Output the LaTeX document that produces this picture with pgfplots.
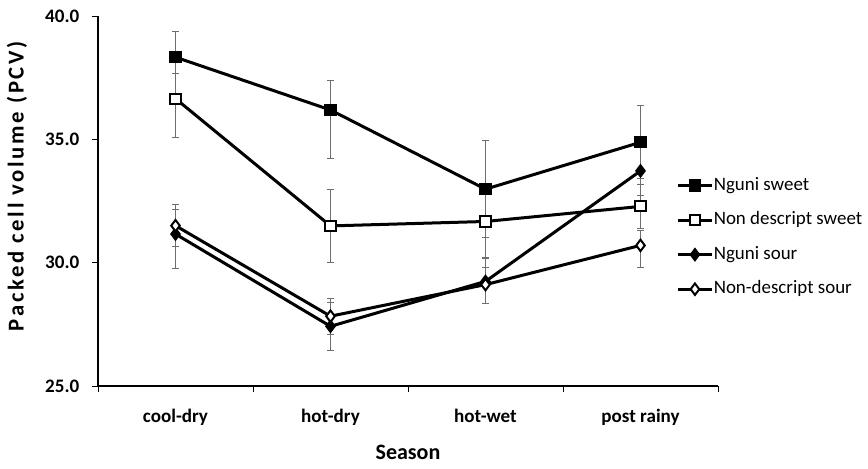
\documentclass[border=0pt]{standalone}
\usepackage{pgfplots}
\pgfplotsset{compat=1.18}
\usepackage{pgfplotstable}
\usepackage{fontspec}
\setmainfont{Carlito}
\definecolor{errgray}{RGB}{110,110,110}

\pgfplotstableread{
x y ep em
0.5 38.33 1.05 0.67
1.5 36.19 1.21 1.96
2.5 32.98 1.97 1.97
3.5 34.88 1.48 1.48
}\ngunisweet
\pgfplotstableread{
x y ep em
0.5 36.65 1.02 1.58
1.5 31.49 1.49 1.48
2.5 31.67 1.46 1.46
3.5 32.28 0.88 0.88
}\ndsweet
\pgfplotstableread{
x y ep em
0.5 31.16 1.01 1.41
1.5 27.42 0.95 0.98
2.5 29.24 0.91 0.91
3.5 33.72 1.00 1.00
}\ngunisour
\pgfplotstableread{
x y ep em
0.5 31.50 0.86 0.86
1.5 27.83 0.73 0.73
2.5 29.11 0.68 0.78
3.5 30.70 0.59 0.91
}\ndsour

\begin{document}
\begin{tikzpicture}
\begin{axis}[
  scale only axis,
  width=465pt, height=277.5pt,
  xmin=0, xmax=4, ymin=25, ymax=40,
  axis x line*=bottom, axis y line*=left,
  axis line style={black, line width=0.8pt},
  tick align=outside,
  xtick={0.5,1.5,2.5,3.5},
  xticklabels={cool-dry,hot-dry,hot-wet,post rainy},
  major x tick style={draw=none},
  minor xtick={0,1,2,3,4},
  minor tick length=4.5pt,
  minor x tick style={black, line width=0.6pt},
  ytick={25,30,35,40},
  major tick length=4.5pt,
  y tick style={black, line width=0.6pt},
  /pgf/number format/.cd, fixed, fixed zerofill, precision=1, assume math mode=true,
  /pgfplots/.cd,
  ticklabel style={font=\fontsize{14.3}{17}\selectfont\bfseries},
  xticklabel style={anchor=center, text height=10pt, text depth=3pt, yshift=-19.5pt},
  yticklabel style={anchor=east, xshift=-6pt},
  xlabel={Season},
  ylabel={Packed cell volume (PCV)},
  every axis x label/.style={at={(rel axis cs:0.5,0)}, anchor=center, yshift=-49.5pt,
    font=\fontsize{16.5}{20}\selectfont\bfseries},
  every axis y label/.style={at={(rel axis cs:0,0.54)}, anchor=center, rotate=90, yshift=60.75pt,
    font=\fontsize{17}{20}\selectfont\bfseries\addfontfeature{LetterSpace=12}},
  legend style={at={(rel axis cs:0.932,0.5676)}, anchor=north west, draw=none, fill=none,
    font=\fontsize{14.2}{17}\selectfont, row sep=11.9pt, inner sep=0pt,
    nodes={inner sep=0pt, text height=10.5pt, text depth=3.5pt}},
  legend cell align=left,
  legend image code/.code={\draw[mark repeat=2,mark phase=2] plot coordinates {(0pt,0pt)(13pt,0pt)(26pt,0pt)};},
  error bars/error bar style={errgray, line width=0.75pt},
  error bars/error mark options={errgray, rotate=90, mark size=2.6pt, line width=0.75pt},
]
% error bars first
\addplot[forget plot, only marks, mark=none, errgray, error bars/.cd, y dir=both, y explicit]
  table[x=x, y=y, y error plus=ep, y error minus=em] {\ngunisweet};
\addplot[forget plot, only marks, mark=none, errgray, error bars/.cd, y dir=both, y explicit]
  table[x=x, y=y, y error plus=ep, y error minus=em] {\ndsweet};
\addplot[forget plot, only marks, mark=none, errgray, error bars/.cd, y dir=both, y explicit]
  table[x=x, y=y, y error plus=ep, y error minus=em] {\ngunisour};
\addplot[forget plot, only marks, mark=none, errgray, error bars/.cd, y dir=both, y explicit]
  table[x=x, y=y, y error plus=ep, y error minus=em] {\ndsour};
% lines
\addplot[black, line width=2.25pt, mark=square*, mark size=4.1pt, mark options={solid, fill=black, line width=1pt}]
  table[x=x, y=y] {\ngunisweet};
\addlegendentry{Nguni sweet}
\addplot[black, line width=2.25pt, mark=square*, mark size=3.8pt, mark options={solid, fill=white, line width=1.5pt}]
  table[x=x, y=y] {\ndsweet};
\addlegendentry{Non descript sweet}
\addplot[black, line width=2.25pt, mark=diamond*, mark size=4.6pt, mark options={solid, fill=black, line width=1pt}]
  table[x=x, y=y] {\ngunisour};
\addlegendentry{Nguni sour}
\addplot[black, line width=2.25pt, mark=diamond*, mark size=4.3pt, mark options={solid, fill=white, line width=1.5pt}]
  table[x=x, y=y] {\ndsour};
\addlegendentry{Non-descript sour}
\end{axis}
\pgfresetboundingbox
\path[use as bounding box] (-73.5pt,-61.5pt) rectangle (577.5pt,289.5pt);
\end{tikzpicture}
\end{document}
